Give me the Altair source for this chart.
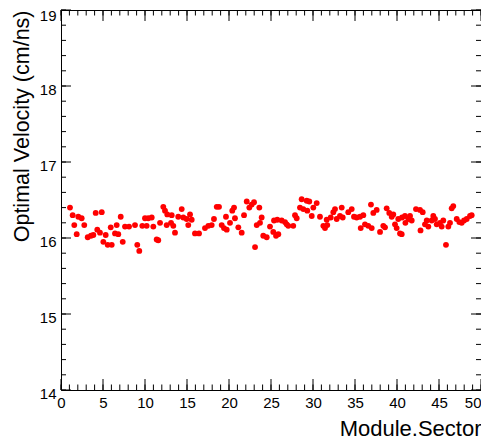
import altair as alt
import pandas as pd

# Module.Sector values and optimal velocities (cm/ns)
x_vals = [
    1.07, 1.39, 1.58, 1.87, 2.06, 2.46, 2.77, 3.18, 3.57, 3.85, 4.13, 4.32, 4.64, 4.85,
    5.04, 5.32, 5.56, 5.92, 6.04, 6.43, 6.63, 6.82, 7.11, 7.35, 7.62, 8.10,
    8.81, 9.08, 9.32, 9.68, 10.00, 10.20, 10.39, 10.80, 10.99, 11.39, 11.58, 11.79,
    12.18, 12.38, 12.58, 12.65, 13.10, 13.18, 13.37, 13.57, 13.96, 14.37, 14.56, 14.96,
    15.15, 15.36, 15.56, 15.95, 16.43,
    17.14, 17.54, 17.94, 18.21, 18.54, 18.81, 19.13, 19.40, 19.64, 19.73, 20.12, 20.39,
    20.60, 20.71, 21.11, 21.51, 21.79, 22.11, 22.42, 22.70, 22.98, 23.10, 23.30, 23.61,
    23.69, 23.89, 24.08, 24.49, 24.88,
    25.27, 25.36, 25.60, 25.75, 25.87, 26.27, 26.67, 26.87, 27.06, 27.65, 27.86, 28.06,
    28.45, 28.65, 28.85, 29.25, 29.32, 29.56, 29.85, 30.04, 30.44, 30.83, 31.23, 31.43,
    31.63, 31.70, 32.11, 32.42, 32.62, 32.82, 33.21,
    33.42, 33.54, 34.20, 34.61, 34.88, 35.20, 35.60, 35.68, 35.99, 36.19, 36.58, 36.90,
    36.99, 37.18, 37.58, 37.98, 38.37, 38.57, 38.77, 39.08, 39.37, 39.56, 39.76, 39.96,
    40.15, 40.36, 40.56, 40.60, 40.95, 41.00, 41.35, 41.55,
    41.75, 42.26, 42.74, 42.80, 43.06, 43.33, 43.54, 43.73, 44.13, 44.32, 44.52, 44.73,
    45.12, 45.32, 45.51, 45.83, 46.11, 46.31, 46.51, 46.70, 47.11, 47.42, 47.70, 47.98,
    48.30, 48.69, 48.89,
]
y_vals = [
    16.40, 16.30, 16.17, 16.05, 16.28, 16.26, 16.17, 16.01, 16.03, 16.04, 16.33, 16.11, 16.07, 16.34,
    15.95, 16.04, 15.91, 16.14, 15.91, 16.06, 16.17, 16.05, 16.28, 15.95, 16.15, 16.15,
    16.17, 15.91, 15.83, 16.16, 16.26, 16.16, 16.26, 16.27, 16.15, 15.98, 15.97, 16.20,
    16.41, 16.36, 16.17, 16.31, 16.20, 16.30, 16.16, 16.07, 16.28, 16.38, 16.27, 16.25,
    16.17, 16.31, 16.24, 16.06, 16.06,
    16.13, 16.16, 16.17, 16.25, 16.41, 16.41, 16.17, 16.13, 16.28, 16.11, 16.20, 16.36,
    16.40, 16.26, 16.14, 16.07, 16.30, 16.48, 16.40, 16.44, 16.47, 15.88, 16.17, 16.40,
    16.20, 16.27, 16.03, 16.01, 16.15,
    16.08, 16.23, 16.03, 16.24, 16.05, 16.23, 16.21, 16.18, 16.16, 16.16, 16.30, 16.26,
    16.40, 16.51, 16.38, 16.49, 16.36, 16.48, 16.29, 16.40, 16.46, 16.28, 16.16, 16.13,
    16.24, 16.17, 16.27, 16.34, 16.38, 16.25, 16.29,
    16.40, 16.27, 16.34, 16.38, 16.28, 16.27, 16.28, 16.13, 16.30, 16.18, 16.16, 16.44,
    16.13, 16.33, 16.37, 16.08, 16.16, 16.14, 16.39, 16.33, 16.28, 16.31, 16.18, 16.13,
    16.25, 16.06, 16.05, 16.27, 16.29, 16.20, 16.25, 16.29,
    16.23, 16.38, 16.37, 16.10, 16.34, 16.18, 16.23, 16.15, 16.23, 16.29, 16.25, 16.18,
    16.20, 16.15, 16.23, 15.91, 16.15, 16.20, 16.39, 16.42, 16.25, 16.21, 16.20, 16.23,
    16.25, 16.29, 16.30,
]

x_major = [0, 5, 10, 15, 20, 25, 30, 35, 40, 45, 50]
x_minor = list(range(0, 51))
y_major = [14, 15, 16, 17, 18, 19]
y_minor = [14 + 0.2 * i for i in range(26)]

W, H = 420, 380
FONT = "Liberation Sans"

df = pd.DataFrame({"x": x_vals, "y": y_vals})
xscale = alt.Scale(domain=[0, 50], nice=False, zero=False)
yscale = alt.Scale(domain=[14, 19], nice=False, zero=False)

xaxis = alt.Axis(
    values=x_major, tickSize=0, domain=False, grid=False, labelFlush=False,
    labelOverlap=False, labelFontSize=15, labelFont=FONT, labelColor="black",
    labelPadding=5,
    labelAlign={"condition": {"test": "datum.value == 50", "value": "right"}, "value": "center"},
    title="Module.Sector", titleFont=FONT, titleFontSize=22,
    titleFontWeight="normal", titleColor="black", titleAlign="right",
    titleBaseline="alphabetic", titleX=W, titleY=45,
)
yaxis = alt.Axis(
    values=y_major, tickSize=0, domain=False, grid=False, labelFlush=False,
    labelOverlap=False, labelFontSize=15, labelFont=FONT, labelColor="black",
    labelPadding=5,
    labelOffset={"condition": {"test": "datum.value == 19", "value": 5}, "value": 3},
    title="Optimal Velocity (cm/ns)", titleFont=FONT,
    titleFontSize=21.5, titleFontWeight="normal", titleColor="black",
    titleAngle=270, titleAlign="right", titleBaseline="alphabetic",
    titleX=-33, titleY=0,
)

points = alt.Chart(df).mark_circle(size=34, color="#ff0000", opacity=1).encode(
    x=alt.X("x:Q", scale=xscale, axis=xaxis, title="Module.Sector"),
    y=alt.Y("y:Q", scale=yscale, axis=yaxis, title="Optimal Velocity (cm/ns)"),
)


def xticks(vals, length):
    d = pd.DataFrame({"v": vals})
    base = alt.Chart(d).mark_rule(color="black", strokeWidth=1)
    xenc = alt.X("v:Q", scale=xscale, axis=xaxis, title="Module.Sector")
    bottom = base.encode(x=xenc, y=alt.value(H), y2=alt.value(H - length))
    top = base.encode(x=xenc, y=alt.value(0), y2=alt.value(length))
    return [bottom, top]


def yticks(vals, length):
    d = pd.DataFrame({"v": vals})
    base = alt.Chart(d).mark_rule(color="black", strokeWidth=1)
    yenc = alt.Y("v:Q", scale=yscale, axis=yaxis, title="Optimal Velocity (cm/ns)")
    left = base.encode(y=yenc, x=alt.value(0), x2=alt.value(length))
    right = base.encode(y=yenc, x=alt.value(W), x2=alt.value(W - length))
    return [left, right]


layers = [points] + xticks(x_minor, 5.5) + xticks(x_major, 11) + yticks(y_minor, 5) + yticks(y_major, 10)

chart = alt.layer(*layers).properties(
    width=W, height=H,
    padding={"left": 53, "top": 2, "right": 0, "bottom": 50},
    autosize=alt.AutoSizeParams(type="none"),
    background="white",
).configure_view(stroke="black", strokeWidth=1)

chart.save("out.html", embed_options={"renderer": "svg", "actions": False})
